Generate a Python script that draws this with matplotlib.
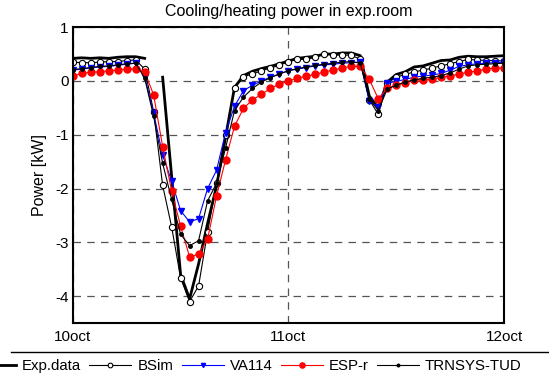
import numpy as np
import matplotlib
matplotlib.use("Agg")
import matplotlib.pyplot as plt
from matplotlib.lines import Line2D

plt.rcParams['font.family'] = ['Liberation Sans', 'DejaVu Sans']

# hourly values, 10 oct 00:00 .. 12 oct 00:00
hours = list(range(49))

exp_data = [0.42, 0.43, 0.42, 0.43, 0.42, 0.44, 0.45, 0.45, 0.42, np.nan,
            0.07, -1.77, -3.60, -4.05, -3.40, -2.65, -1.95, -1.05, -0.12, 0.10,
            0.18, 0.23, 0.27, 0.32, 0.37, 0.42, 0.44, 0.46, 0.50, 0.50,
            0.52, 0.52, 0.47, -0.28, -0.50, -0.02, 0.12, 0.17, 0.26, 0.28,
            0.33, 0.38, 0.39, 0.44, 0.46, 0.45, 0.45, 0.46, 0.47]

bsim = [0.35, 0.34, 0.34, 0.35, 0.36, 0.36, 0.38, 0.39, 0.22, -0.57,
        -1.94, -2.71, -3.66, -4.10, -3.81, -2.81, -1.90, -1.00, -0.14, 0.08,
        0.13, 0.19, 0.24, 0.29, 0.36, 0.40, 0.40, 0.44, 0.50, 0.48,
        0.48, 0.48, 0.40, -0.35, -0.62, -0.04, 0.07, 0.12, 0.17, 0.20,
        0.24, 0.28, 0.32, 0.36, 0.40, 0.39, 0.38, 0.38, 0.37]

va114 = [0.20, 0.22, 0.24, 0.26, 0.27, 0.29, 0.31, 0.33, 0.08, -0.60,
         -1.38, -1.86, -2.41, -2.62, -2.56, -2.00, -1.66, -0.96, -0.47, -0.18,
         -0.08, 0.00, 0.07, 0.13, 0.19, 0.22, 0.25, 0.28, 0.30, 0.31,
         0.33, 0.34, 0.35, -0.38, -0.48, -0.04, -0.01, 0.03, 0.07, 0.09,
         0.11, 0.14, 0.20, 0.27, 0.30, 0.32, 0.33, 0.34, 0.35]

espr = [0.09, 0.14, 0.16, 0.17, 0.19, 0.20, 0.22, 0.22, 0.17, -0.26,
        -1.22, -2.04, -2.70, -3.27, -3.22, -2.94, -2.14, -1.47, -0.84, -0.51,
        -0.35, -0.25, -0.14, -0.06, 0.00, 0.05, 0.09, 0.12, 0.17, 0.20,
        0.24, 0.27, 0.27, 0.03, -0.33, -0.14, -0.07, -0.04, 0.02, 0.02,
        0.03, 0.07, 0.09, 0.13, 0.16, 0.19, 0.22, 0.24, 0.24]

trnsys = [0.21, 0.23, 0.25, 0.27, 0.28, 0.30, 0.32, 0.33, 0.05, -0.66,
          -1.53, -2.20, -2.85, -3.06, -2.97, -2.23, -1.90, -1.25, -0.55, -0.30,
          -0.14, -0.02, 0.06, 0.13, 0.19, 0.23, 0.26, 0.29, 0.31, 0.33,
          0.35, 0.36, 0.33, -0.33, -0.55, -0.15, -0.08, -0.02, 0.02, 0.05,
          0.07, 0.10, 0.15, 0.22, 0.28, 0.30, 0.31, 0.32, 0.33]

xtick_pos = [0, 24, 48]
xtick_labels = ['10oct', '11oct', '12oct']
yticks = [-4, -3, -2, -1, 0, 1]

fig = plt.figure(figsize=(5.49, 3.77), dpi=100)
ax = fig.add_axes([0.1326, 0.143, 0.7855, 0.785])

ax.plot(hours, exp_data, color='black', lw=2.0, label='Exp.data')
ax.plot(hours, bsim, color='black', lw=0.8, marker='o', ms=4.5,
        mfc='white', mec='black', mew=0.8, label='BSim')
ax.plot(hours, va114, color='blue', lw=0.8, marker='v', ms=4,
        label='VA114')
ax.plot(hours, espr, color='red', lw=0.8, marker='o', ms=5,
        mec='red', label='ESP-r')
ax.plot(hours, trnsys, color='black', lw=0.8, marker='o', ms=2.5,
        label='TRNSYS-TUD')

ax.set_xlim(0, 48)
ax.set_ylim(-4.5, 1)
ax.set_xticks(xtick_pos)
ax.set_xticklabels(xtick_labels)
ax.set_yticks(yticks)
ax.set_yticklabels([str(t) for t in yticks])
ax.tick_params(direction='in', length=0, labelsize=11)
ax.tick_params(axis='y', pad=3)
ax.tick_params(axis='x', pad=5)
ax.grid(True, color='#555555', linestyle=(0, (6, 5)), linewidth=0.9)
for s in ax.spines.values():
    s.set_linewidth(1.5)
ax.set_ylabel('Power [kW]', fontsize=11.5, labelpad=6)
ax.set_title('Cooling/heating power in exp.room', fontsize=11.5, pad=8)

# legend sits below the plot, partly cut off at the left edge
leg = fig.legend(loc='upper center', bbox_to_anchor=(0.4515, 0.064), ncol=5,
                 fontsize=10.8, handlelength=2.8, handletextpad=0.4,
                 columnspacing=0.55, numpoints=1, frameon=False,
                 markerscale=0.75, borderaxespad=0, borderpad=0.4)
# top edge of the legend box
fig.add_artist(Line2D([0.02, 1.0], [0.066, 0.066], transform=fig.transFigure,
                      color='black', lw=1.0))

fig.savefig('out.png', dpi=100)
